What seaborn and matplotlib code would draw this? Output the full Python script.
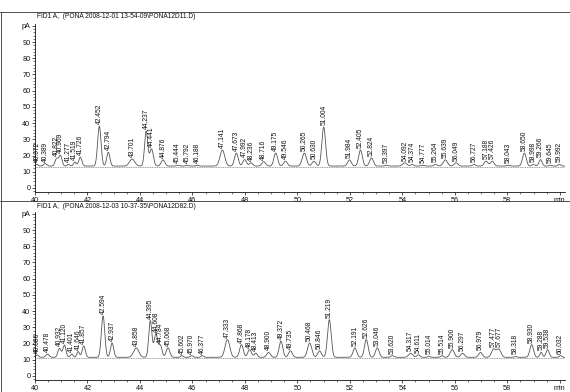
import numpy as np
import pandas as pd
import matplotlib
matplotlib.use("Agg")
import matplotlib.pyplot as plt
import seaborn as sns
from matplotlib.lines import Line2D
from matplotlib.ticker import MultipleLocator, FixedLocator, FixedFormatter

# ---------------- data ----------------
title_top = "FID1 A,  (PONA 2008-12-01 13-54-09\\PONA12D11.D)"
title_bot = "FID1 A,  (PONA 2008-12-03 10-37-35\\PONA12D82.D)"

baseline_top = 13.5
rt_top = [40.072, 40.389, 40.822, 40.969, 41.277, 41.519, 41.726, 42.452, 42.794,
          43.701, 44.237, 44.441, 44.876, 45.444, 45.792, 46.188, 47.141, 47.673,
          47.992, 48.236, 48.716, 49.175, 49.546, 50.265, 50.630, 51.004, 51.984,
          52.405, 52.824, 53.397, 54.092, 54.374, 54.777, 55.264, 55.639, 56.049,
          56.727, 57.188, 57.426, 58.043, 58.650, 58.998, 59.266, 59.645, 59.992]
height_top = [14.5, 15.0, 18.0, 20.0, 14.5, 16.0, 19.0, 38.0, 22.0,
              17.8, 35.0, 24.0, 17.3, 14.0, 14.0, 14.0, 23.4, 21.5,
              17.5, 15.5, 16.2, 21.5, 16.5, 21.5, 16.5, 37.5, 17.3,
              23.4, 18.5, 14.0, 15.5, 14.5, 14.0, 14.5, 17.3, 15.5,
              14.5, 16.5, 16.5, 14.0, 21.5, 14.5, 17.5, 14.0, 14.5]
sigma_top = [0.05, 0.06, 0.06, 0.06, 0.05, 0.05, 0.06, 0.065, 0.06,
             0.10, 0.06, 0.07, 0.07, 0.05, 0.05, 0.05, 0.09, 0.07,
             0.07, 0.06, 0.07, 0.07, 0.07, 0.08, 0.07, 0.07, 0.07,
             0.07, 0.07, 0.06, 0.08, 0.06, 0.06, 0.06, 0.08, 0.07,
             0.06, 0.07, 0.07, 0.06, 0.07, 0.05, 0.06, 0.05, 0.05]

baseline_bot = 11.5
rt_bot = [40.086, 40.478, 40.932, 41.120, 41.401, 41.646, 41.857, 42.594, 42.937,
          43.858, 44.395, 44.608, 44.784, 45.068, 45.602, 45.970, 46.377, 47.333,
          47.868, 48.178, 48.413, 48.900, 49.372, 49.735, 50.468, 50.846, 51.219,
          52.191, 52.626, 53.046, 53.620, 54.317, 54.611, 55.014, 55.514, 55.900,
          56.297, 56.979, 57.477, 57.677, 58.318, 58.930, 59.288, 59.538, 60.032]
height_bot = [13.0, 13.5, 17.0, 19.0, 13.5, 15.0, 18.5, 37.0, 20.3,
              17.3, 34.0, 26.0, 18.5, 17.3, 12.5, 12.5, 12.5, 22.4,
              19.3, 16.2, 14.0, 14.5, 21.5, 15.5, 20.3, 15.4, 34.7,
              17.3, 22.4, 17.3, 12.5, 14.0, 13.0, 12.0, 12.5, 16.2,
              14.0, 14.5, 16.5, 16.5, 12.0, 19.3, 14.5, 16.2, 12.5]
sigma_bot = [0.05, 0.06, 0.06, 0.06, 0.05, 0.05, 0.06, 0.065, 0.06,
             0.10, 0.06, 0.07, 0.06, 0.07, 0.05, 0.05, 0.05, 0.09,
             0.07, 0.07, 0.06, 0.07, 0.07, 0.07, 0.08, 0.07, 0.07,
             0.07, 0.07, 0.07, 0.06, 0.08, 0.06, 0.05, 0.05, 0.08,
             0.07, 0.07, 0.08, 0.08, 0.05, 0.07, 0.05, 0.06, 0.05]

x_ticks = [40, 42, 44, 46, 48, 50, 52, 54, 56, 58, 60]
x_labels = ["40", "42", "44", "46", "48", "50", "52", "54", "56", "58", "min"]
y_ticks = [0, 10, 20, 30, 40, 50, 60, 70, 80, 90, 100]
y_labels = ["0", "10", "20", "30", "40", "50", "60", "70", "80", "90", "pA"]

# ---------------- figure ----------------
sns.set_theme(style="ticks")
plt.rcParams["font.family"] = ["Liberation Sans Narrow", "Liberation Sans", "DejaVu Sans"]

fig = plt.figure(figsize=(5.7, 3.92), dpi=100)
W, H = 570.0, 392.0

def build_trace(rts, heights, sigmas, base):
    t = np.linspace(40.0, 60.2, 4000)
    s = np.full_like(t, base)
    for r, h, sg in zip(rts, heights, sigmas):
        s += (h - base) * np.exp(-0.5 * ((t - r) / sg) ** 2)
    return t, s

def panel(rect, rts, heights, sigmas, base):
    ax = fig.add_axes(rect)
    t, s = build_trace(rts, heights, sigmas, base)
    df = pd.DataFrame({"t": t, "s": s})
    sns.lineplot(data=df, x="t", y="s", ax=ax, color="#555555", lw=0.6,
                 estimator=None, sort=False)
    ax.plot([40.0, 60.2], [base - 0.3, base - 0.3], color="#777777", lw=0.5,
            ls=(0, (1.5, 1.0)))
    for r in rts:
        yv = np.interp(r, t, s)
        ax.annotate(f"{r:.3f}", xy=(r, yv), xytext=(0, 1.5), textcoords="offset points",
                    rotation=90, ha="center", va="bottom", fontsize=4.8, color="#111111")
    ax.set_xlim(40, 60.2)
    ax.set_ylim(-2.5, 101)
    ax.xaxis.set_major_locator(FixedLocator(x_ticks))
    ax.xaxis.set_major_formatter(FixedFormatter(x_labels))
    ax.xaxis.set_minor_locator(MultipleLocator(0.5))
    ax.yaxis.set_major_locator(FixedLocator(y_ticks))
    ax.yaxis.set_major_formatter(FixedFormatter(y_labels))
    ax.yaxis.set_minor_locator(MultipleLocator(2))
    ax.tick_params(axis="both", which="major", labelsize=5.2, length=2.5, width=0.5,
                   pad=0.8, colors="#111111")
    ax.tick_params(axis="both", which="minor", length=1.3, width=0.4, colors="#111111")
    for side in ["top", "right"]:
        ax.spines[side].set_visible(False)
    for side in ["left", "bottom"]:
        ax.spines[side].set_linewidth(0.6)
        ax.spines[side].set_color("#111111")
    ax.set_xlabel("")
    ax.set_ylabel("")
    return ax

x0 = 35 / W
wid = (565.0 - 35) / W
hgt = (192 - 24.2) / H
ax1 = panel([x0, 1 - 192 / H, wid, hgt], rt_top, height_top, sigma_top, baseline_top)
ax2 = panel([x0, 1 - 380 / H, wid, hgt], rt_bot, height_bot, sigma_bot, baseline_bot)

fig.text(37 / W, 1 - 16.5 / H, title_top, fontsize=4.8, ha="left", va="center", color="#111111")
fig.text(37 / W, 1 - 206 / H, title_bot, fontsize=4.8, ha="left", va="center", color="#111111")

# frame lines of the report page
for yy in [12, 201]:
    fig.add_artist(Line2D([0, 1], [1 - yy / H, 1 - yy / H], color="#333333", lw=0.6))
fig.add_artist(Line2D([0.5 / W, 0.5 / W], [0, 1 - 12 / H], color="#333333", lw=0.6))

fig.savefig("out.png", dpi=100, facecolor="white")
